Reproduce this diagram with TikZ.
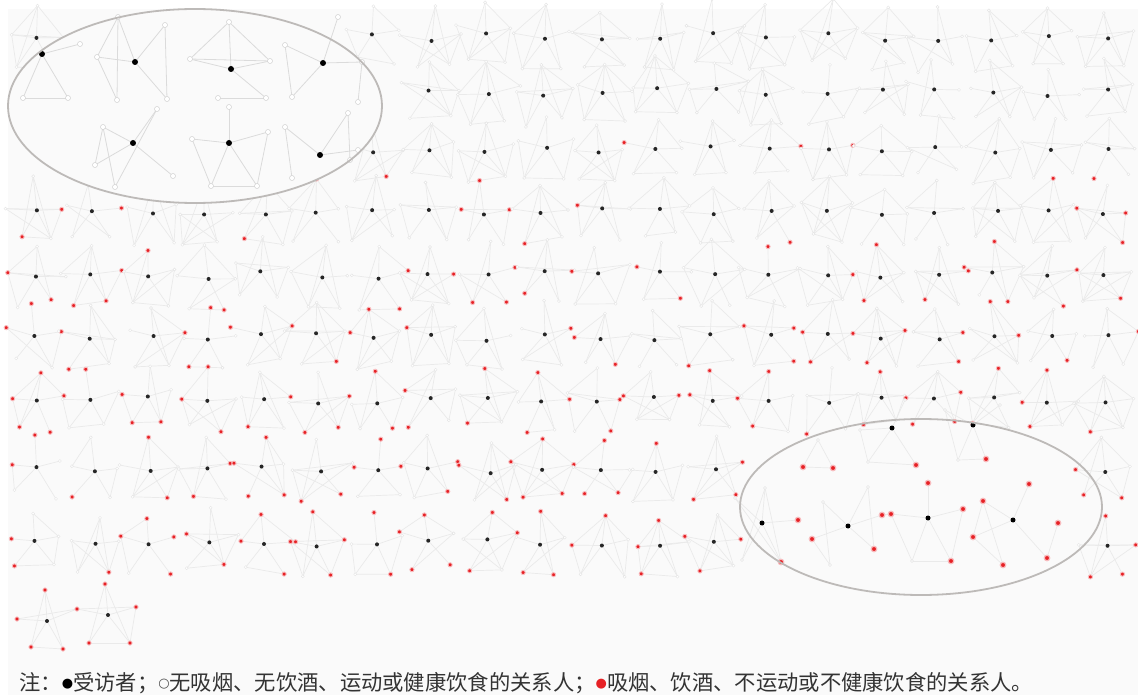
\documentclass[tikz,border=0pt]{standalone}
\usepackage{fontspec}
\newfontfamily\cjk{Noto Sans CJK SC}
\newfontfamily\sym{DejaVu Sans}
\definecolor{edgec}{HTML}{EAEAEA}
\definecolor{redn}{HTML}{E62125}
\definecolor{bgc}{HTML}{FAFAFA}
\definecolor{ringc}{HTML}{BDBAB8}
\definecolor{alterc}{HTML}{E4E4E4}
\newcommand\capdot[1]{\raisebox{2.5pt}{\sym\fontsize{13}{13}\selectfont #1}}
\tikzset{
  tie/.style={draw=edgec, line width=0.7pt},
  bigtie/.style={draw=black!14, line width=0.8pt},
  egonode/.style={circle, fill=black!85, inner sep=0pt, minimum size=4pt},
  rednode/.style={circle, fill=redn, draw=redn!30, line width=0.9pt, inner sep=0pt, minimum size=4.2pt},
  whitenode/.style={circle, draw=alterc, fill=white, line width=0.4pt, inner sep=0pt, minimum size=3pt},
  bigego/.style={circle, fill=black, inner sep=0pt, minimum size=6pt},
  bigred/.style={circle, fill=redn, draw=redn!30, line width=1.2pt, inner sep=0pt, minimum size=5.5pt},
  bigwhite/.style={circle, draw=black!18, fill=white, line width=0.5pt, inner sep=0pt, minimum size=5pt},
  ring/.style={draw=ringc, line width=1.8pt},
}
\begin{document}
\begin{tikzpicture}[x=1pt,y=-1pt]
\useasboundingbox (0,0) rectangle (1138,695);
\fill[white] (0,0) rectangle (1138,695);
\fill[bgc] (8,9) rectangle (1138,695);
\pgfmathsetseed{7}
% ---------- pass 1: positions and ties ----------
\foreach \Y/\pp [count=\rr] in {37/0,92/0,150/0.08,212/0.2,275/0.3,337/0.38,400/0.45,470/0.52,543/0.6}{
 \foreach \cc in {0,...,19}{
  \pgfmathsetmacro\ex{37+56.3*\cc+4*rand}
  \pgfmathsetmacro\ey{\Y+4*rand}
  \pgfmathtruncatemacro\inTL{((\ex-195)/187)^2+((\ey-106)/97)^2<1.08}
  \pgfmathtruncatemacro\inBR{((\ex-921)/181)^2+((\ey-507)/88)^2<1}
  \pgfmathtruncatemacro\skipme{\inTL+\inBR}
  \ifnum\skipme=0
   \expandafter\xdef\csname on\rr-\cc\endcsname{1}
   \coordinate (e\rr-\cc) at (\ex,\ey);
   \foreach \kk/\bx/\by in {1/0/-30,2/27/-4,3/18/27,4/-18/27,5/-27/-4}{
     \pgfmathsetmacro\ax{\ex+\bx+5*rand}
     \pgfmathsetmacro\ay{\ey+\by+5*rand}
     \coordinate (a\rr-\cc-\kk) at (\ax,\ay);
     \pgfmathtruncatemacro\isred{rnd<\pp}
     \expandafter\xdef\csname rf\rr-\cc-\kk\endcsname{\isred}
     \draw[tie] (e\rr-\cc) -- (a\rr-\cc-\kk);
   }
   \foreach \uu/\vv/\qq in {1/2/0.5,2/3/0.5,3/4/0.6,4/5/0.5,5/1/0.5,1/3/0.5,1/4/0.5,2/5/0.3,2/4/0.3,3/5/0.3}{
     \pgfmathtruncatemacro\ff{rnd<\qq}
     \ifnum\ff=1 \draw[tie] (a\rr-\cc-\uu) -- (a\rr-\cc-\vv);\fi
   }
  \else
   \expandafter\xdef\csname on\rr-\cc\endcsname{0}
  \fi
 }
}
% last row: two networks, all alters red
\foreach \nm/\px/\py in {z1/47/621,z1a/45/590,z1b/77/609,z1c/63/649,z1d/31/647,z1e/17/619,
  z2/108/615,z2a/105/584,z2b/136/607,z2c/130/643,z2d/89/643}{\coordinate (\nm) at (\px,\py);}
\foreach \s/\t in {z1/z1a,z1/z1b,z1/z1c,z1/z1d,z1/z1e,z1e/z1b,z1a/z1c,z1d/z1c,z1a/z1d,
  z2/z2a,z2/z2b,z2/z2c,z2/z2d,z2/z1b,z2a/z2d,z2a/z2c,z2d/z2c,z1b/z2b,z2b/z2c}{\draw[tie] (\s) -- (\t);}
% ---------- pass 2: nodes ----------
\foreach \rr in {1,...,9}{\foreach \cc in {0,...,19}{
  \expandafter\ifnum\csname on\rr-\cc\endcsname=1
   \foreach \kk in {1,...,5}{
     \expandafter\ifnum\csname rf\rr-\cc-\kk\endcsname=1
       \node[rednode] (n\rr-\cc-\kk) at (a\rr-\cc-\kk) {};
     \else
       \node[whitenode] (n\rr-\cc-\kk) at (a\rr-\cc-\kk) {};
     \fi}
   \node[egonode] (ego\rr-\cc) at (e\rr-\cc) {};
  \fi}}
\foreach \nm in {z1a,z1b,z1c,z1d,z1e,z2a,z2b,z2c,z2d}{\node[rednode] (m\nm) at (\nm) {};}
\node[egonode] (mz1) at (z1) {};
\node[egonode] (mz2) at (z2) {};
% ---------- top-left magnified ellipse ----------
\fill[bgc] (195,106) ellipse [x radius=187, y radius=97];
\foreach \nm/\px/\py in {
  t1/42/54,t1a/80/44,t1b/23/98,t1c/68/98,
  t2/135/62,t2a/97/57,t2b/118/17,t2c/165/25,t2d/117/100,t2e/167/99,
  t3/231/69,t3a/229/22,t3b/190/59,t3c/270/61,t3d/218/98,t3e/266/98,
  t4/323/63,t4a/285/45,t4b/338/17,t4c/292/97,t4d/358/102,t4e/362/62,
  t5/133/143,t5a/157/109,t5b/103/127,t5c/95/165,t5d/115/187,t5e/173/176,
  t6/229/143,t6a/229/107,t6b/192/139,t6c/268/132,t6d/211/186,t6e/257/186,
  t7/320/155,t7a/285/127,t7b/348/113,t7c/358/150,t7d/292/178,t7e/350/160}{\coordinate (\nm) at (\px,\py);}
\foreach \s/\t in {t1/t1a,t1/t1b,t1/t1c,t1b/t1c,
  t2/t2a,t2/t2b,t2/t2c,t2/t2e,t2a/t2d,t2b/t2d,t2c/t2e,t2a/t2b,
  t3/t3a,t3/t3b,t3/t3c,t3/t3e,t3b/t3a,t3a/t3c,t3b/t3c,t3d/t3e,
  t4/t4a,t4/t4b,t4/t4c,t4/t4e,t4a/t4c,t4d/t4e,
  t5/t5a,t5/t5b,t5/t5c,t5/t5e,t5b/t5d,t5a/t5d,t5b/t5c,
  t6/t6a,t6/t6b,t6/t6c,t6/t6d,t6/t6e,t6d/t6e,t6b/t6d,t6c/t6e,
  t7/t7a,t7/t7b,t7/t7c,t7a/t7d,t7b/t7e}{\draw[bigtie] (\s) -- (\t);}
\foreach \nm in {t1a,t1b,t1c,t2a,t2b,t2c,t2d,t2e,t3a,t3b,t3c,t3d,t3e,t4a,t4b,t4c,t4d,t4e,
  t5a,t5b,t5c,t5d,t5e,t6a,t6b,t6c,t6d,t6e,t7a,t7b,t7c,t7d,t7e}{\node[bigwhite] (w\nm) at (\nm) {};}
\foreach \nm in {t1,t2,t3,t4,t5,t6,t7}{\node[bigego] (b\nm) at (\nm) {};}
\draw[ring] (195,106) ellipse [x radius=187, y radius=97];
% ---------- bottom-right highlighted ellipse ----------
\foreach \nm/\px/\py in {
  u1/762/523,u1a/765/488,u1b/798/520,u1c/781/562,u1d/742/560,u1e/735/498,
  u2/848/526,u2a/868/487,u2b/823/502,u2c/812/539,u2d/830/565,u2e/882/515,u2f/874/549,
  u3/928/518,u3a/928/483,u3b/891/514,u3c/963/509,u3d/951/561,u3e/912/561,
  u4/1013/520,u4a/1029/484,u4b/983/501,u4c/973/537,u4d/1003/565,u4e/1047/558,u4f/1058/523,
  u5/892/428,u5a/916/465,u5b/868/462,u5c/860/430,u5d/905/400,
  u6/973/425,u6a/986/459,u6b/958/460,u6c/1000/405,u6d/945/410,
  u7/818/440,u7a/803/467,u7b/833/468}{\coordinate (\nm) at (\px,\py);}
\foreach \s/\t in {u1/u1a,u1/u1b,u1/u1c,u1/u1d,u1/u1e,u1a/u1c,u1e/u1c,u1a/u1d,
  u2/u2c,u2/u2e,u2/u2f,u2/u2a,u2/u2b,u2b/u2d,u2a/u2f,u2c/u2d,
  u3/u3a,u3/u3b,u3/u3c,u3/u3d,u3/u3e,u3b/u3e,u3e/u3d,u3c/u3d,u3b/u2e,
  u4/u4a,u4/u4c,u4/u4e,u4/u4b,u4b/u4d,u4b/u4c,u4c/u4d,u4f/u4e,
  u5/u5a,u5/u5b,u5/u5c,u5/u5d,u5b/u5a,u5c/u5b,
  u6/u6a,u6/u6b,u6/u6c,u6/u6d,u6b/u6a,u6d/u6b,
  u7/u7a,u7/u7b,u7a/u7b}{\draw[tie] (\s) -- (\t);}
\foreach \nm in {u1a,u1d,u1e,u2a,u2b,u2d,u3e,u5b,u5c,u5d,u6b,u6c,u6d,u7}{\node[whitenode] (w\nm) at (\nm) {};}
\foreach \nm in {u1b,u1c,u2c,u2e,u2f,u3a,u3b,u3c,u3d,u4a,u4b,u4c,u4d,u4e,u4f,u5a,u6a,u7a,u7b}{\node[bigred] (r\nm) at (\nm) {};}
\foreach \nm in {u1,u2,u3,u4,u5,u6}{\node[bigego, minimum size=5pt] (b\nm) at (\nm) {};}
\draw[ring] (921,507) ellipse [x radius=181, y radius=88];
% ---------- caption ----------
\node[anchor=west, inner sep=0pt, text=black!80] (cap) at (19,683)
  {\fontsize{21.3}{21.3}\selectfont\cjk 注：\capdot{\color{black}●}受访者；\capdot{\color{black!70}○}无吸烟、无饮酒、运动或健康饮食的关系人；\capdot{\color{redn}●}吸烟、饮酒、不运动或不健康饮食的关系人。};
\end{tikzpicture}
\end{document}
